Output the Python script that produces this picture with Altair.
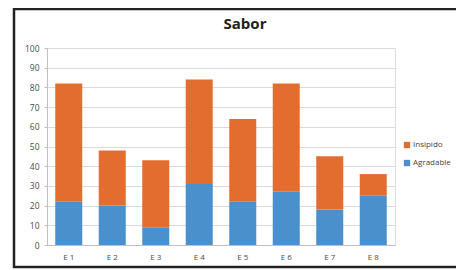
import altair as alt
import pandas as pd

categories = ["E 1", "E 2", "E 3", "E 4", "E 5", "E 6", "E 7", "E 8"]
agradable = [22, 20, 9, 31, 22, 27, 18, 25]
insipido = [60, 28, 34, 53, 42, 55, 27, 11]
series = ["Insipido", "Agradable"]
colors = ["#E36C2F", "#4A90CC"]
title_text = "Sabor"

rows = []
for c, a, i in zip(categories, agradable, insipido):
    rows.append({"cat": c, "serie": "Agradable", "valor": a, "ord": 0})
    rows.append({"cat": c, "serie": "Insipido", "valor": i, "ord": 1})
df = pd.DataFrame(rows)

font = "Open Sans"

bars = alt.Chart(df).mark_bar(size=27).encode(
    x=alt.X("cat:N", sort=categories, title=None,
            scale=alt.Scale(paddingInner=0.38, paddingOuter=0.19),
            axis=alt.Axis(labelAngle=0, labelFontSize=8, labelColor="#4A4A4A",
                          labelFont=font, domainColor="#BFBFBF", ticks=False,
                          labelPadding=8)),
    y=alt.Y("valor:Q", stack="zero", title=None,
            scale=alt.Scale(domain=[0, 100]),
            axis=alt.Axis(values=list(range(0, 101, 10)), labelFontSize=8.5,
                          labelColor="#4A4A4A", labelFont=font,
                          gridColor="#D9D9D9", domainColor="#BFBFBF",
                          tickColor="#BFBFBF", tickSize=3, labelPadding=5)),
    color=alt.Color("serie:N", scale=alt.Scale(domain=series, range=colors),
                    legend=alt.Legend(title=None, orient="none", legendX=356,
                                      legendY=93, symbolType="square",
                                      symbolSize=40, labelFontSize=8,
                                      labelFont=font, labelColor="#444444",
                                      rowPadding=10, symbolStrokeWidth=0,
                                      labelOffset=2)),
    order=alt.Order("ord:Q"),
)

title = alt.Chart(pd.DataFrame({"t": [title_text]})).mark_text(
    fontSize=15, font=font, fontWeight="bold", color="#222222",
    align="center", baseline="middle"
).encode(text="t:N", x=alt.value(198), y=alt.value(-24))

frame = alt.Chart(pd.DataFrame({"k": [0]})).mark_rect(
    filled=False, stroke="#222222", strokeWidth=2.5
).encode(
    x=alt.value(-33), x2=alt.value(430),
    y=alt.value(-39), y2=alt.value(219),
)

chart = alt.layer(bars, title, frame).properties(
    width=348, height=197,
    autosize=alt.AutoSizeParams(type="none"),
    padding={"left": 39, "top": 40, "right": 61, "bottom": 24},
).configure_view(stroke=None).configure(background="white")

chart.save("out.html", embed_options={"renderer": "svg", "actions": False})
